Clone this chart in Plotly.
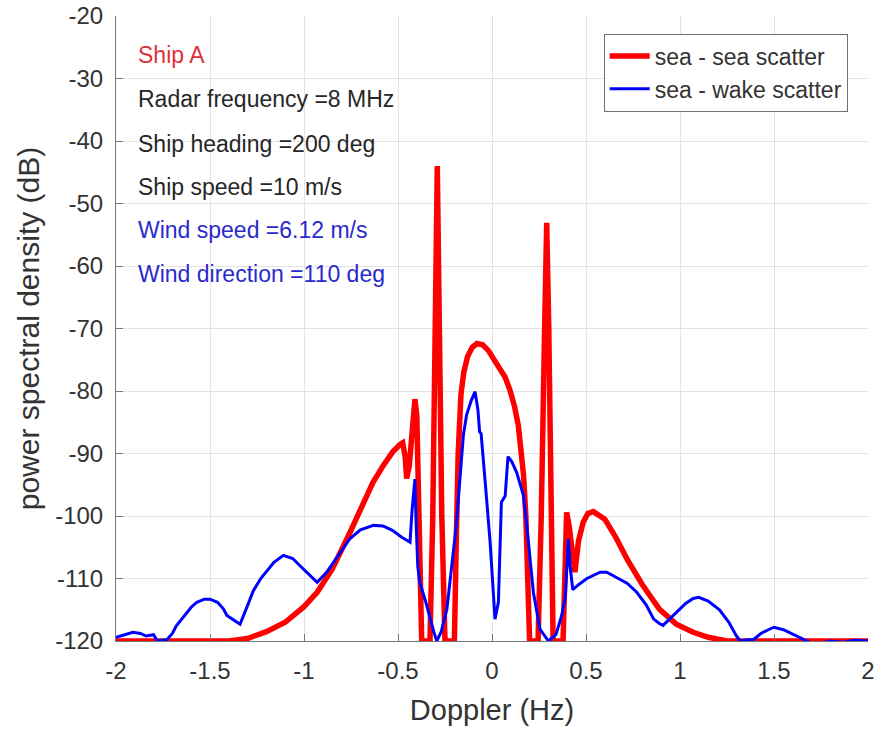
import plotly.graph_objects as go

# ---- data ----
doppler_sea = [-2.0, -1.6, -1.4, -1.3, -1.2, -1.1, -1.0, -0.93, -0.85, -0.755, -0.7, -0.633,
               -0.58, -0.527, -0.49, -0.475, -0.462, -0.454, -0.44, -0.425, -0.41, -0.4,
               -0.388, -0.374, -0.33, -0.315, -0.30, -0.291, -0.282, -0.267, -0.25,
               -0.20, -0.19, -0.18, -0.165, -0.15, -0.13, -0.105, -0.08, -0.05, -0.02, 0.005,
               0.04, 0.07, 0.095, 0.12, 0.14, 0.155, 0.168, 0.18, 0.19, 0.20,
               0.245, 0.262, 0.28, 0.291, 0.302, 0.31, 0.325,
               0.378, 0.388, 0.397, 0.41, 0.425, 0.441, 0.46, 0.485, 0.51, 0.539, 0.6,
               0.66, 0.72, 0.8, 0.89, 0.98, 1.07, 1.15, 1.25, 1.5, 2.0]
psd_sea = [-120, -120, -120, -119.6, -118.5, -117, -114.5, -112.2, -108.5, -102.6, -99, -94.6,
           -92, -89.7, -88.6, -88.3, -90.5, -94, -92, -85, -81.3, -84,
           -100, -120, -120, -100, -65, -44, -65, -100, -120,
           -120, -104, -90, -80.5, -77, -74.5, -73, -72.4, -72.6, -73.5, -74.8,
           -76.3, -77.8, -79.8, -82.5, -85.5, -89, -93.5, -100, -109.5, -120,
           -120, -100, -70, -53.1, -70, -90, -120,
           -120, -108, -99.4, -101.5, -106, -109, -104, -101, -99.6, -99.3, -100.5,
           -103.5, -107, -111, -114.9, -117.3, -118.6, -119.4, -120, -120, -120]

doppler_wake = [-2.0, -1.96, -1.91, -1.87, -1.84, -1.80, -1.78, -1.73, -1.70, -1.68, -1.65,
                -1.62, -1.60, -1.57, -1.53, -1.50, -1.46, -1.43, -1.41, -1.38, -1.34, -1.30,
                -1.27, -1.23, -1.19, -1.16, -1.11, -1.06, -1.02, -0.97, -0.93, -0.88, -0.82,
                -0.755, -0.70, -0.63, -0.58, -0.53, -0.48, -0.436, -0.425, -0.41, -0.405,
                -0.395, -0.385, -0.35, -0.31, -0.294, -0.27, -0.24, -0.19, -0.152, -0.135,
                -0.11, -0.09, -0.075, -0.066, -0.058, -0.035, -0.01, 0.016, 0.034, 0.05,
                0.07, 0.085, 0.105, 0.131, 0.167, 0.185, 0.22, 0.255, 0.30, 0.34, 0.37,
                0.39, 0.40, 0.406, 0.415, 0.43, 0.46, 0.505, 0.575, 0.61, 0.66, 0.72, 0.77,
                0.82, 0.86, 0.89, 0.91, 0.95, 0.98, 1.03, 1.07, 1.10, 1.15, 1.21, 1.26,
                1.30, 1.32, 1.36, 1.39, 1.43, 1.47, 1.50, 1.55, 1.60, 1.65, 1.69, 1.75,
                1.80, 1.87, 1.93, 2.0]
psd_wake = [-119.4, -119.0, -118.6, -118.8, -119.2, -119.0, -120.0, -119.8, -118.8, -117.6, -116.5,
            -115.4, -114.6, -113.8, -113.3, -113.3, -113.8, -114.8, -115.9, -116.5, -117.3, -114.3,
            -112.0, -110.0, -108.5, -107.4, -106.3, -106.8, -108.0, -109.5, -110.6, -109.0, -106.5,
            -103.6, -102.2, -101.5, -101.6, -102.3, -103.4, -104.2, -99.0, -94.1, -100.0,
            -108.0, -110.5, -114.0, -118.5, -120.0, -118.5, -114.9, -101.5, -87.0, -83.8,
            -81.5, -80.1, -83.0, -86.5, -86.8, -95.0, -104.2, -116.5, -113.8, -97.8,
            -96.8, -90.5, -91.3, -93.0, -96.7, -101.5, -112.2, -118.1, -120.0, -119.0, -116.0,
            -113.0, -106.0, -103.7, -108.0, -111.8, -111.0, -110.0, -109.0, -109.0, -109.8, -110.8, -112.2,
            -114.2, -116.5, -117.2, -117.5, -116.3, -115.4, -114.0, -113.2, -113.0, -113.6, -115.0, -117.0,
            -119.2, -120.0, -119.8, -119.8, -118.8, -118.2, -117.8, -118.2, -118.9, -119.7, -120.2, -120.3,
            -120.0, -120.2, -119.9, -120.0]

x_ticks = [-2, -1.5, -1, -0.5, 0, 0.5, 1, 1.5, 2]
x_tick_labels = ["-2", "-1.5", "-1", "-0.5", "0", "0.5", "1", "1.5", "2"]
y_ticks = [-120, -110, -100, -90, -80, -70, -60, -50, -40, -30, -20]
y_tick_labels = [str(v) for v in y_ticks]

info_lines = ["Ship A", "Radar frequency =8 MHz", "Ship heading =200 deg",
              "Ship speed =10 m/s", "Wind speed =6.12 m/s", "Wind direction =110 deg"]
info_colors = ["#e0303a", "#262626", "#262626", "#262626", "#2a2acc", "#2a2acc"]
info_y = [-26.3, -33.2, -40.4, -47.4, -54.3, -61.2]

FONT = "Liberation Sans, Arial, sans-serif"

fig = go.Figure()
fig.add_trace(go.Scatter(x=doppler_sea, y=psd_sea, mode="lines", name="sea - sea scatter",
                         line=dict(color="#ff0000", width=5.5)))
fig.add_trace(go.Scatter(x=doppler_wake, y=psd_wake, mode="lines", name="sea - wake scatter",
                         line=dict(color="#0000ff", width=3)))

for txt, col, yy in zip(info_lines, info_colors, info_y):
    fig.add_annotation(x=-1.894, y=yy, xref="x", yref="y", text=txt, showarrow=False,
                       xanchor="left", yanchor="middle",
                       font=dict(family=FONT, size=23, color=col))

fig.update_layout(
    width=877, height=729,
    margin=dict(l=116, r=9, t=16, b=88),
    paper_bgcolor="white", plot_bgcolor="white",
    font=dict(family=FONT, size=23, color="#333333"),
    showlegend=True,
    hovermode=False,
    legend=dict(x=0.973, y=0.972, xanchor="right", yanchor="top",
                bgcolor="white", bordercolor="#6f6f6f", borderwidth=1,
                font=dict(family=FONT, size=23, color="#333333"),
                tracegroupgap=0, itemwidth=40),
    xaxis=dict(range=[-2, 2], tickmode="array", tickvals=x_ticks, ticktext=x_tick_labels,
               showgrid=True, gridcolor="#e3e3e3", gridwidth=1, zeroline=False,
               showline=True, linecolor="#777777", linewidth=1,
               ticks="inside", ticklen=7, tickcolor="#777777",
               ticklabelstandoff=8, ticklabeloverflow="allow",
               tickfont=dict(family=FONT, size=24, color="#333333"),
               title=dict(text="Doppler (Hz)", standoff=16,
                          font=dict(family=FONT, size=29, color="#333333")),
               automargin=False),
    yaxis=dict(range=[-120, -20], tickmode="array", tickvals=y_ticks, ticktext=y_tick_labels,
               showgrid=True, gridcolor="#e3e3e3", gridwidth=1, zeroline=False,
               showline=True, linecolor="#777777", linewidth=1,
               ticks="inside", ticklen=7, tickcolor="#777777",
               ticklabelstandoff=7, ticklabeloverflow="allow",
               tickfont=dict(family=FONT, size=24, color="#333333"),
               title=dict(text="power spectral density (dB)", standoff=6,
                          font=dict(family=FONT, size=30, color="#333333")),
               automargin=False),
)

# remove the browser's default page margin so the figure fills the window exactly
fig.write_html("out.html",
               config={"displayModeBar": False, "staticPlot": True},
               post_script="document.body.style.margin='0';document.body.style.overflow='hidden';")
